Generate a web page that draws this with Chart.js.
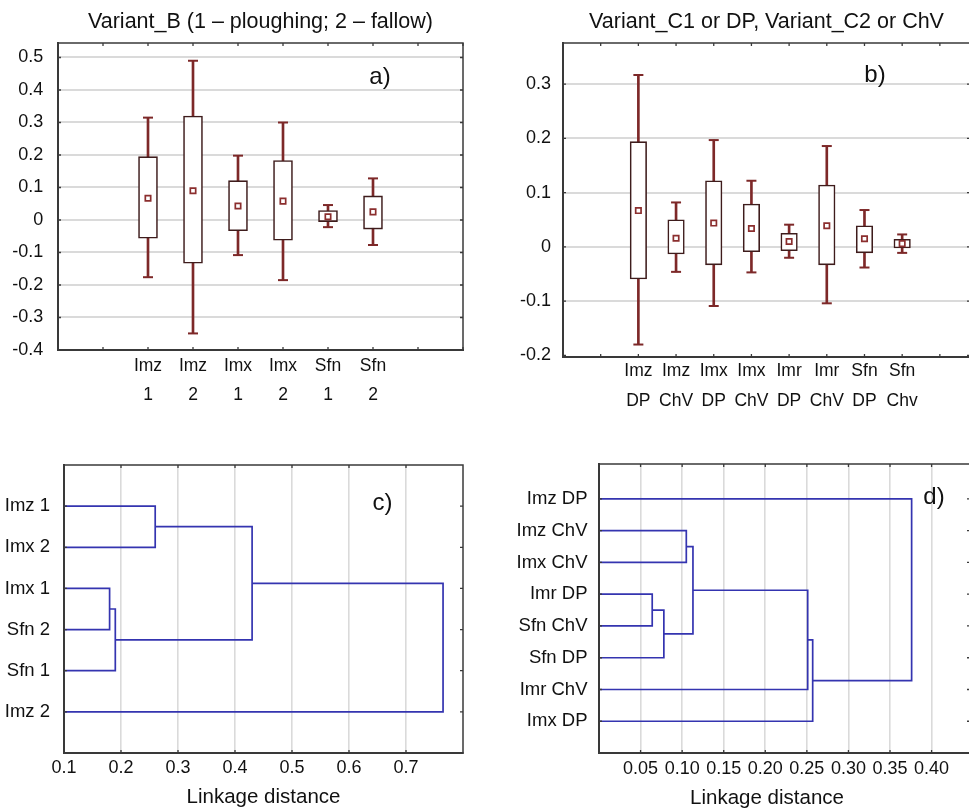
<!DOCTYPE html>
<html>
<head>
<meta charset="utf-8">
<script src="https://cdn.jsdelivr.net/npm/chart.js@4.4.0/dist/chart.umd.min.js"></script>
<style>
html,body{margin:0;padding:0;background:#fff;overflow:hidden;}
#wrap{position:relative;width:969px;height:808px;overflow:hidden;background:#fff;}
#wrap canvas{position:absolute;left:0;top:0;}
</style>
</head>
<body>
<div id="wrap">
<canvas id="ca" width="1000" height="808"></canvas>
<canvas id="cb" width="1000" height="808"></canvas>
<canvas id="cc" width="1000" height="808"></canvas>
<canvas id="cd" width="1000" height="808"></canvas>
</div>
<script>
// ---------------- DATA ----------------
// Panel a) box plots
const titleA = 'Variant_B (1 – ploughing; 2 – fallow)';
const varA  = ['Imz', 'Imz', 'Imx', 'Imx', 'Sfn', 'Sfn'];
const grpA  = ['1', '2', '1', '2', '1', '2'];
const minA  = [-0.176, -0.349, -0.108, -0.185, -0.022, -0.077];
const q1A   = [-0.056, -0.133, -0.033, -0.062, -0.005, -0.028];
const meanA = [ 0.067,  0.090,  0.043,  0.058,  0.010,  0.025];
const q3A   = [ 0.195,  0.320,  0.121,  0.183,  0.029,  0.074];
const maxA  = [ 0.315,  0.490,  0.198,  0.300,  0.046,  0.128];
const yTickA = ['-0.4', '-0.3', '-0.2', '-0.1', '0', '0.1', '0.2', '0.3', '0.4', '0.5'];

// Panel b) box plots
const titleB = 'Variant_C1 or DP, Variant_C2 or ChV';
const varB  = ['Imz', 'Imz', 'Imx', 'Imx', 'Imr', 'Imr', 'Sfn', 'Sfn'];
const grpB  = ['DP', 'ChV', 'DP', 'ChV', 'DP', 'ChV', 'DP', 'Chv'];
const minB  = [-0.180, -0.046, -0.109, -0.047, -0.020, -0.104, -0.038, -0.011];
const q1B   = [-0.059, -0.013, -0.033, -0.009, -0.007, -0.033, -0.011, -0.002];
const meanB = [ 0.067,  0.016,  0.044,  0.034,  0.010,  0.039,  0.015,  0.006];
const q3B   = [ 0.194,  0.050,  0.122,  0.079,  0.025,  0.114,  0.039,  0.014];
const maxB  = [ 0.317,  0.082,  0.197,  0.122,  0.041,  0.186,  0.068,  0.023];
const yTickB = ['-0.2', '-0.1', '0', '0.1', '0.2', '0.3'];

// Panel c) dendrogram (leaves top to bottom, joins: node indices + linkage distance)
const leavesC    = ['Imz 1', 'Imx 2', 'Imx 1', 'Sfn 2', 'Sfn 1', 'Imz 2'];
const joinLeftC  = [0, 2, 7, 6, 9];
const joinRightC = [1, 3, 4, 8, 5];
const joinDistC  = [0.26, 0.18, 0.19, 0.43, 0.765];
const xTickC = ['0.1', '0.2', '0.3', '0.4', '0.5', '0.6', '0.7'];

// Panel d) dendrogram
const leavesD    = ['Imz DP', 'Imz ChV', 'Imx ChV', 'Imr DP', 'Sfn ChV', 'Sfn DP', 'Imr ChV', 'Imx DP'];
const joinLeftD  = [1, 3, 9, 8, 11, 12, 0];
const joinRightD = [2, 4, 5, 10, 6, 7, 13];
const joinDistD  = [0.105, 0.064, 0.078, 0.113, 0.251, 0.257, 0.376];
const xTickD = ['0.05', '0.10', '0.15', '0.20', '0.25', '0.30', '0.35', '0.40'];

const axisTitle = 'Linkage distance';

// ---------------- STYLE ----------------
const FAMILY = "'Liberation Sans', Arial, Helvetica, sans-serif";
const TXT = '#111111';
const FRAME = '#3a3a3a';
const GRID = '#dadada';
const WHISK = '#7d2828';
const BOXC = '#3e1c1c';
const MEANC = '#8b2e2e';
const BLUE = '#3434b0';

const framePlugin = {
  id: 'frame',
  afterDraw(chart) {
    const {ctx, chartArea: a, scales} = chart;
    ctx.save();
    ctx.strokeStyle = FRAME;
    ctx.lineWidth = 1.5;
    ctx.strokeRect(a.left, a.top, a.right - a.left, a.bottom - a.top);
    ctx.lineWidth = 1.3;
    const t = 3;
    ctx.beginPath();
    scales.x.ticks.forEach(tk => {
      const px = scales.x.getPixelForValue(tk.value);
      ctx.moveTo(px, a.bottom); ctx.lineTo(px, a.bottom - t);
      ctx.moveTo(px, a.top); ctx.lineTo(px, a.top + t);
    });
    scales.y.ticks.forEach(tk => {
      const py = scales.y.getPixelForValue(tk.value);
      ctx.moveTo(a.left, py); ctx.lineTo(a.left + t, py);
      ctx.moveTo(a.right, py); ctx.lineTo(a.right - t, py);
    });
    ctx.stroke();
    ctx.restore();
  }
};

const notesPlugin = {
  id: 'notes',
  afterDraw(chart, args, opts) {
    const ctx = chart.ctx;
    const items = opts.items || [];
    for (let i = 0; i < items.length; i++) {
      const it = items[i];
      ctx.save();
      ctx.font = it.size + 'px ' + FAMILY;
      ctx.fillStyle = TXT;
      ctx.textAlign = 'center';
      ctx.textBaseline = 'middle';
      ctx.fillText(it.text, it.x, it.y);
      ctx.restore();
    }
  }
};

function boxChart(id, d) {
  const xs = d.min.map((_, i) => i + d.first);
  const ticksX = [];
  for (let k = 0; k <= Math.floor(d.xmax); k++) ticksX.push(k);
  const yVals = d.yTicks.map(Number);
  const whisk = xs.map((x, i) => ({x: x, y: [d.min[i], d.max[i]]}));
  const boxes = xs.map((x, i) => ({x: x, y: [d.q1[i], d.q3[i]]}));
  const caps = [];
  xs.forEach((x, i) => { caps.push({x: x, y: d.min[i]}); caps.push({x: x, y: d.max[i]}); });
  const means = xs.map((x, i) => ({x: x, y: d.mean[i]}));

  new Chart(document.getElementById(id), {
    type: 'bar',
    data: {
      datasets: [
        {type: 'bar', data: whisk, backgroundColor: WHISK, borderWidth: 0, barThickness: 2, grouped: false, order: 4},
        {type: 'scatter', data: caps, pointStyle: 'line', pointRadius: 5, pointBorderColor: WHISK, pointBorderWidth: 2, order: 3},
        {type: 'bar', data: boxes, backgroundColor: '#ffffff', borderColor: BOXC, borderWidth: 1.6, borderSkipped: false, barThickness: d.barW, grouped: false, order: 2},
        {type: 'scatter', data: means, pointStyle: 'rect', pointRadius: 3.8, pointBackgroundColor: '#ffffff', pointBorderColor: MEANC, pointBorderWidth: 1.7, order: 1}
      ]
    },
    options: {
      responsive: false, animation: false, events: [],
      layout: {padding: d.pad},
      plugins: {
        legend: {display: false},
        tooltip: {enabled: false},
        title: {display: true, text: d.title, fullSize: false, color: TXT,
          font: {family: FAMILY, size: 21.5, weight: 'normal', lineHeight: 1.2},
          padding: {top: 9.1, bottom: 8.1}},
        notes: {items: d.notes}
      },
      scales: {
        x: {
          type: 'linear', min: 0, max: d.xmax, offset: false,
          afterBuildTicks: s => { s.ticks = ticksX.map(v => ({value: v})); },
          afterFit: s => { s.height = d.xh; },
          grid: {display: false, drawTicks: false, offset: false},
          border: {display: true, color: FRAME, width: 2},
          ticks: {
            autoSkip: false, maxRotation: 0, minRotation: 0, padding: d.xpad, color: TXT,
            font: {family: FAMILY, size: 17.5, lineHeight: 1.67},
            callback: (v) => {
              const i = Math.round(v) - d.first;
              return (i >= 0 && i < d.v.length) ? [d.v[i], d.g[i]] : '';
            }
          }
        },
        y: {
          type: 'linear', min: d.ymin, max: d.ymax,
          afterBuildTicks: s => { s.ticks = yVals.map(v => ({value: v})); },
          afterFit: s => { s.width = d.yw; },
          grid: {
            color: (c) => (d.hideFirstGrid && c.index === 0) ? 'rgba(0,0,0,0)' : GRID,
            lineWidth: 2, drawTicks: false
          },
          border: {display: true, color: FRAME, width: 2},
          ticks: {autoSkip: false, padding: d.ypad, color: TXT,
            font: {family: FAMILY, size: 18},
            callback: (v, i) => d.yTicks[i]}
        }
      }
    },
    plugins: [framePlugin, notesPlugin]
  });
}

function dendro(id, d) {
  const nodeX = d.leaves.map(() => d.xmin);
  const nodeY = d.leaves.map((_, i) => i + 1);
  const datasets = d.left.map((a, k) => {
    const b = d.right[k], h = d.dist[k];
    const ds = {
      type: 'scatter', showLine: true,
      data: [{x: nodeX[a], y: nodeY[a]}, {x: h, y: nodeY[a]}, {x: h, y: nodeY[b]}, {x: nodeX[b], y: nodeY[b]}],
      borderColor: BLUE, borderWidth: 1.7, pointRadius: 0, fill: false, tension: 0
    };
    nodeX.push(h);
    nodeY.push((nodeY[a] + nodeY[b]) / 2);
    return ds;
  });
  const xVals = d.xTicks.map(Number);
  const yVals = d.leaves.map((_, i) => i + 1);
  new Chart(document.getElementById(id), {
    type: 'scatter',
    data: {datasets: datasets},
    options: {
      responsive: false, animation: false, events: [],
      layout: {padding: d.pad},
      plugins: {legend: {display: false}, tooltip: {enabled: false}, notes: {items: d.notes}},
      scales: {
        x: {
          type: 'linear', min: d.xmin, max: d.xmax,
          afterBuildTicks: s => { s.ticks = xVals.map(v => ({value: v})); },
          afterFit: s => { s.height = d.xh; },
          grid: {color: GRID, lineWidth: 1.6, drawTicks: false},
          border: {display: true, color: FRAME, width: 2},
          ticks: {autoSkip: false, maxRotation: 0, minRotation: 0, padding: d.xpad, color: TXT,
            font: {family: FAMILY, size: 18},
            callback: (v, i) => d.xTicks[i]},
          title: d.showTitle ? {display: true, text: axisTitle, color: TXT,
            font: {family: FAMILY, size: 20.5, lineHeight: 1}, padding: {top: 0, bottom: 0}} : {display: false}
        },
        y: {
          type: 'linear', reverse: true, min: d.ymin, max: d.ymax,
          afterBuildTicks: s => { s.ticks = yVals.map(v => ({value: v})); },
          afterFit: s => { s.width = d.yw; },
          grid: {display: false, drawTicks: false},
          border: {display: true, color: FRAME, width: 2},
          ticks: {autoSkip: false, padding: d.ypad, color: TXT,
            font: {family: FAMILY, size: 18.5},
            callback: (v) => d.leaves[Math.round(v) - 1]}
        }
      }
    },
    plugins: [framePlugin, notesPlugin]
  });
}

boxChart('ca', {
  title: titleA, v: varA, g: grpA, min: minA, q1: q1A, mean: meanA, q3: q3A, max: maxA,
  yTicks: yTickA, first: 2, xmax: 9, ymin: -0.4, ymax: 0.5446, barW: 19, hideFirstGrid: false,
  pad: {left: 0, top: 0, right: 537, bottom: 388}, yw: 58, xh: 70, ypad: 14.7, xpad: 1.5,
  notes: [{text: 'a)', x: 380, y: 77, size: 24}]
});

boxChart('cb', {
  title: titleB, v: varB, g: grpB, min: minB, q1: q1B, mean: meanB, q3: q3B, max: maxB,
  yTicks: yTickB, first: 2, xmax: 10.8, ymin: -0.203, ymax: 0.376, barW: 16.5, hideFirstGrid: true,
  pad: {left: 503, top: 0, right: 30, bottom: 381}, yw: 60, xh: 70, ypad: 12, xpad: 0,
  notes: [{text: 'b)', x: 875, y: 75, size: 24}]
});

dendro('cc', {
  leaves: leavesC, left: joinLeftC, right: joinRightC, dist: joinDistC, xTicks: xTickC,
  xmin: 0.1, xmax: 0.8, ymin: 0, ymax: 7, showTitle: true,
  pad: {left: 0, top: 465, right: 537, bottom: 0}, yw: 64, xh: 55, ypad: 14, xpad: 4.5,
  notes: [{text: 'c)', x: 382.5, y: 503, size: 24}]
});

dendro('cd', {
  leaves: leavesD, left: joinLeftD, right: joinRightD, dist: joinDistD, xTicks: xTickD,
  xmin: 0, xmax: 0.4462, ymin: -0.1, ymax: 9, showTitle: false,
  pad: {left: 0, top: 464, right: 30, bottom: 0}, yw: 599, xh: 55, ypad: 11.5, xpad: 5.5,
  notes: [{text: 'd)', x: 934, y: 497, size: 24}, {text: axisTitle, x: 767, y: 798, size: 20.5}]
});
</script>
</body>
</html>
